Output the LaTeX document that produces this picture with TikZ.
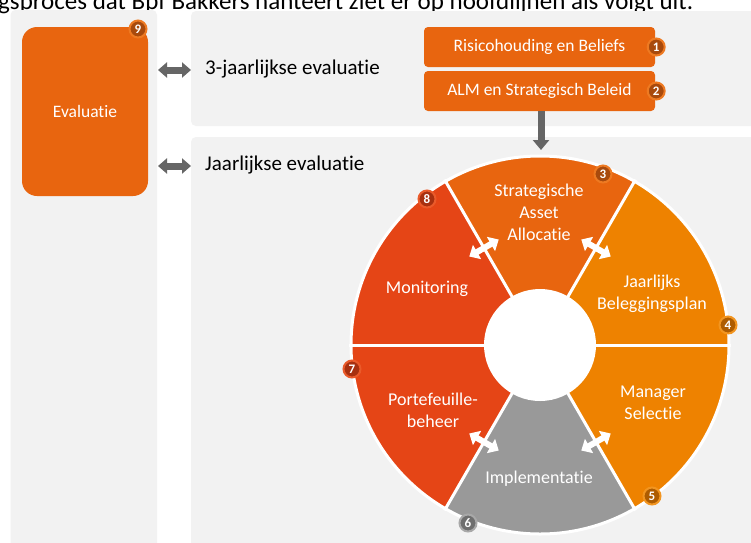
\documentclass[tikz,border=0pt]{standalone}
\usepackage{fontspec}
\setmainfont{Carlito}[Ligatures={NoCommon,NoRequired,NoContextual}]
\usetikzlibrary{arrows.meta,calc}
\definecolor{panelgray}{HTML}{F2F2F2}
\definecolor{orA}{HTML}{E8650F}
\definecolor{orB}{HTML}{EE8200}
\definecolor{redC}{HTML}{E54516}
\definecolor{grayD}{HTML}{999999}
\definecolor{arrgray}{HTML}{666666}
\definecolor{bdA}{HTML}{A84A0D}
\definecolor{rgA}{HTML}{EE7A22}
\definecolor{bdB}{HTML}{AE5C00}
\definecolor{rgB}{HTML}{F29520}
\definecolor{bdC}{HTML}{A8300F}
\definecolor{rgC}{HTML}{EA5A2A}
\definecolor{bdD}{HTML}{6E6E6E}
\definecolor{rgD}{HTML}{A8A8A8}
\tikzset{
  panel/.style={fill=panelgray, rounded corners=5pt},
  evalbox/.style={rectangle, fill=orA, rounded corners=15pt, text=white,
    font=\fontsize{17.5}{21}\selectfont, minimum width=126pt, minimum height=169pt},
  topbox/.style={rectangle, fill=orA, rounded corners=4pt, text=white,
    font=\fontsize{17.5}{21}\selectfont, minimum width=231pt, minimum height=40pt},
  badge/.style 2 args={circle, fill=#1, draw=#2, line width=2pt, inner sep=0pt,
    minimum size=17pt, text=white, font=\bfseries\fontsize{13}{13}\selectfont},
  segtext/.style={text=white, align=center, font=\fontsize{18}{22}\selectfont, inner sep=0pt},
  sidelabel/.style={anchor=west, inner sep=0pt, font=\fontsize{21}{25}\selectfont},
  grayarrow/.style={arrgray, line width=7pt,
    {Triangle[length=9pt,width=15pt]}-{Triangle[length=9pt,width=15pt]}},
  whitearrow/.style={white, line width=6pt,
    {Triangle[length=9pt,width=16pt]}-{Triangle[length=9pt,width=16pt]}},
}
\begin{document}
\begin{tikzpicture}[x=1pt,y=-1pt]
\useasboundingbox (0,0) rectangle (751,542);
\fill[white] (0,0) rectangle (751,542);
% title line (clipped at the top, as in the source)
\node[anchor=base west, inner sep=0pt, font=\fontsize{25}{29}\selectfont] (title) at (-2,9.5)
  {gsproces dat Bpf Bakkers hanteert ziet er op hoofdlijnen als volgt uit.};
% panels
\fill[panel] (10.5,10) rectangle (157,570);
\fill[panel] (191,11) rectangle (780,126);
\fill[panel] (191,137) rectangle (780,570);
% evaluatie
\node[evalbox] (eval) at (85,111.5) {Evaluatie};
\node[badge={bdA}{rgA}] (b9) at (138,29) {9};
% side arrows and labels
\coordinate (e1a) at (158,70);
\coordinate (e1b) at (191,70);
\coordinate (e2a) at (158,166);
\coordinate (e2b) at (191,166);
\draw[grayarrow] (e1a) -- (e1b);
\draw[grayarrow] (e2a) -- (e2b);
\node[sidelabel] (l3) at (205,69) {3-jaarlijkse evaluatie};
\node[sidelabel] (l1) at (205,165) {Jaarlijkse evaluatie};
% top boxes
\node[topbox] (risk) at (539.5,47) {Risicohouding en Beliefs};
\node[topbox] (alm) at (539.5,91) {ALM en Strategisch Beleid};
\node[badge={bdA}{rgA}] (b1) at ([xshift=1pt]risk.east) {1};
\node[badge={bdA}{rgA}] (b2) at ([xshift=1pt]alm.east) {2};
\coordinate (wheeltop) at (541,150);
\draw[arrgray, line width=7pt, -{Triangle[length=10pt,width=16pt]}] (alm.south -| wheeltop) -- (wheeltop);
% wheel
\begin{scope}[shift={(540,345)}, yscale=-1]
  \fill[orA]   (0,0) -- (60:189)  arc[start angle=60,  end angle=120, radius=189] -- cycle;
  \fill[redC]  (0,0) -- (120:189) arc[start angle=120, end angle=240, radius=189] -- cycle;
  \fill[grayD] (0,0) -- (240:189) arc[start angle=240, end angle=300, radius=189] -- cycle;
  \fill[orB]   (0,0) -- (300:189) arc[start angle=300, end angle=420, radius=189] -- cycle;
  \foreach \a in {0,60,120,180,240,300}
    \draw[white, line width=3pt] (0,0) -- (\a:191);
  \draw[white, line width=3pt] (0,0) circle[radius=189];
  \fill[white] (0,0) circle[radius=56];
  \coordinate (w1a) at ($(120:112)+(210:17)$);
  \coordinate (w1b) at ($(120:112)+(30:17)$);
  \coordinate (w2a) at ($(60:112)+(150:17)$);
  \coordinate (w2b) at ($(60:112)+(330:17)$);
  \coordinate (w3a) at ($(240:112)+(150:17)$);
  \coordinate (w3b) at ($(240:112)+(330:17)$);
  \coordinate (w4a) at ($(300:112)+(210:17)$);
  \coordinate (w4b) at ($(300:112)+(30:17)$);
\end{scope}
\draw[whitearrow] (w1a) -- (w1b);
\draw[whitearrow] (w2a) -- (w2b);
\draw[whitearrow] (w3a) -- (w3b);
\draw[whitearrow] (w4a) -- (w4b);
% segment labels
\node[segtext] (saa) at (539,212) {Strategische\\Asset\\Allocatie};
\node[segtext] (mon) at (427,289) {Monitoring};
\node[segtext] (jbp) at (652,293.5) {Jaarlijks\\Beleggingsplan};
\node[segtext] (man) at (653,403) {Manager\\Selectie};
\node[segtext] (pfb) at (433,410.5) {Portefeuille-\\beheer};
\node[segtext] (imp) at (539,479) {Implementatie};
% badges
\node[badge={bdA}{rgA}] (b3) at (603,174) {3};
\node[badge={bdB}{rgB}] (b4) at (728,325) {4};
\node[badge={bdB}{rgB}] (b5) at (652,496) {5};
\node[badge={bdD}{rgD}] (b6) at (468,523) {6};
\node[badge={bdC}{rgC}] (b7) at (352,369) {7};
\node[badge={bdC}{rgC}] (b8) at (427,199) {8};
\end{tikzpicture}
\end{document}
